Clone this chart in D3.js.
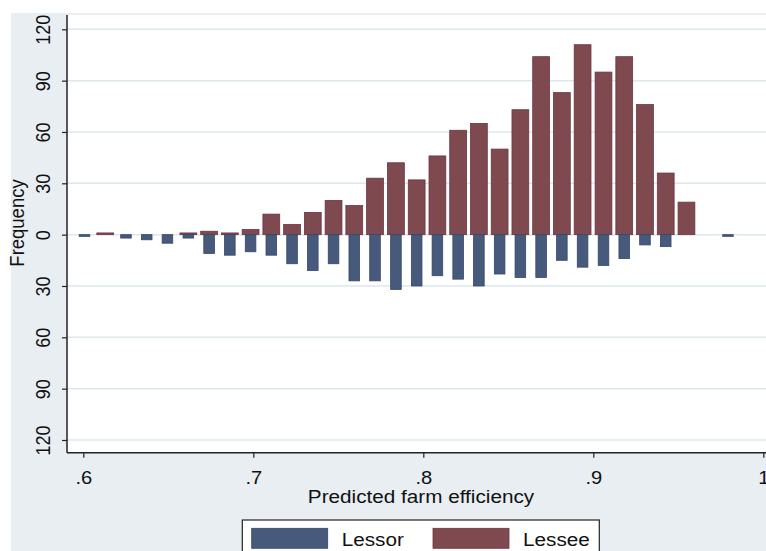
<!DOCTYPE html>
<html>
<head>
<meta charset="utf-8">
<script src="https://cdn.jsdelivr.net/npm/d3@7"></script>
<style>
    body { margin: 0; background: #fff; }
    svg { display: block; font-family: "Liberation Sans", Arial, sans-serif; }
</style>
</head>
<body>
<svg width="766" height="551"></svg>
<script>
// bin midpoints of predicted farm efficiency
const binCenters = [0.6007, 0.6129, 0.6251, 0.6373, 0.6495, 0.6618, 0.6740, 0.6862,
                    0.6984, 0.7106, 0.7228, 0.7350, 0.7472, 0.7594, 0.7716, 0.7839,
                    0.7961, 0.8083, 0.8205, 0.8327, 0.8449, 0.8571, 0.8693, 0.8815,
                    0.8937, 0.9060, 0.9182, 0.9304, 0.9426, 0.9548, 0.9670, 0.9792];
const lessee = [0, 1, 0, 0, 0, 1, 2, 1, 3, 12, 6, 13, 20, 17, 33, 42,
                32, 46, 61, 65, 50, 73, 104, 83, 111, 95, 104, 76, 36, 19, 0, 0];
const lessor = [1, 0, 2, 3, 5, 2, 11, 12, 10, 12, 17, 21, 17, 27, 27, 32,
                30, 24, 26, 30, 23, 25, 25, 15, 19, 18, 14, 6, 7, 0, 0, 1];
const xTicks = [0.6, 0.7, 0.8, 0.9, 1];
const yTicks = [-120, -90, -60, -30, 0, 30, 60, 90, 120];
const seriesNames = ["Lessor", "Lessee"];

const colors = { lessor: "#485a7b", lessee: "#7f4950" };
const strokes = { lessor: "#34476a", lessee: "#6b3540" };
const bg = "#e8eef1";
const gridColor = "#dee7ec";
const sx = 1.12; // the stata export is stretched a bit horizontally

const svg = d3.select("svg");

const plot = { left: 67, top: 15, right: 766, bottom: 452.7 };

const x = d3.scaleLinear().domain([0.6, 1]).range([83.3, 763.3]);
const y = d3.scaleLinear().domain([-120, 120]).range([440, 29.3]);

// graph region + plot region
svg.append("rect").attr("x", 11).attr("y", 13).attr("width", 766 - 11).attr("height", 551 - 13).attr("fill", bg);
svg.append("rect")
    .attr("x", plot.left).attr("y", plot.top)
    .attr("width", plot.right - plot.left).attr("height", plot.bottom - plot.top)
    .attr("fill", "#fff");

// grid
svg.append("g")
    .selectAll("line")
    .data(yTicks)
    .enter().append("line")
        .attr("x1", plot.left).attr("x2", plot.right)
        .attr("y1", d => y(d)).attr("y2", d => y(d))
        .attr("stroke", gridColor)
        .attr("stroke-width", 1.5);

// bars
const wLessee = 16.8, wLessor = 10.6;

svg.append("g")
    .selectAll("rect")
    .data(binCenters.map((c, i) => ({ c: c, v: lessee[i] })).filter(d => d.v > 0))
    .enter().append("rect")
        .attr("x", d => x(d.c) - wLessee / 2)
        .attr("width", wLessee)
        .attr("y", d => y(d.v))
        .attr("height", d => y(0) - y(d.v))
        .attr("fill", colors.lessee)
        .attr("stroke", strokes.lessee)
        .attr("stroke-width", 0.8);

svg.append("g")
    .selectAll("rect")
    .data(binCenters.map((c, i) => ({ c: c, v: lessor[i] })).filter(d => d.v > 0))
    .enter().append("rect")
        .attr("x", d => x(d.c) - wLessor / 2)
        .attr("width", wLessor)
        .attr("y", y(0))
        .attr("height", d => y(-d.v) - y(0))
        .attr("fill", colors.lessor)
        .attr("stroke", strokes.lessor)
        .attr("stroke-width", 0.8);

// axes
const yAxis = svg.append("g")
    .attr("transform", `translate(${plot.left},0)`)
    .call(d3.axisLeft(y).tickValues(yTicks).tickSize(5).tickFormat(d => Math.abs(d)));

yAxis.select(".domain").remove();
yAxis.selectAll("line").attr("stroke", "#222").attr("stroke-width", 1.2);
yAxis.selectAll("text")
    .attr("x", null).attr("dy", null)
    .attr("text-anchor", "middle")
    .attr("transform", d => `translate(${50 - plot.left},0) scale(${sx},1) rotate(-90)`)
    .attr("font-size", 18)
    .attr("fill", "#111")
    .attr("font-family", "Liberation Sans, Arial, sans-serif");

const xAxis = svg.append("g")
    .attr("transform", `translate(0,${plot.bottom})`)
    .call(d3.axisBottom(x).tickValues(xTicks).tickSize(5)
        .tickFormat(d => d === 1 ? "1" : d3.format(".1f")(d).replace(/^0/, "")));

xAxis.select(".domain").remove();
xAxis.selectAll("line").attr("stroke", "#222").attr("stroke-width", 1.2);
xAxis.selectAll("text")
    .attr("y", null).attr("dy", null)
    .attr("text-anchor", "middle")
    .attr("transform", `translate(0,${484 - plot.bottom}) scale(${sx},1)`)
    .attr("font-size", 18)
    .attr("fill", "#111")
    .attr("font-family", "Liberation Sans, Arial, sans-serif");

svg.append("line")
    .attr("x1", plot.left).attr("x2", plot.left)
    .attr("y1", plot.top).attr("y2", plot.bottom)
    .attr("stroke", "#222").attr("stroke-width", 1.5);
svg.append("line")
    .attr("x1", plot.left).attr("x2", plot.right)
    .attr("y1", plot.bottom).attr("y2", plot.bottom)
    .attr("stroke", "#222").attr("stroke-width", 1.5);

// titles
svg.append("text")
    .attr("transform", `translate(24,223) scale(${sx},1) rotate(-90)`)
    .attr("text-anchor", "middle")
    .attr("font-size", 18.5)
    .attr("fill", "#111")
    .text("Frequency");

svg.append("text")
    .attr("transform", `translate(421,503) scale(${sx},1)`)
    .attr("text-anchor", "middle")
    .attr("font-size", 18.5)
    .attr("fill", "#111")
    .text("Predicted farm efficiency");

// legend
const legend = svg.append("g");
legend.append("rect")
    .attr("x", 242.3).attr("y", 520)
    .attr("width", 357).attr("height", 50)
    .attr("fill", "#fff")
    .attr("stroke", "#222")
    .attr("stroke-width", 1.2);

const items = legend.selectAll("g.item")
    .data(seriesNames)
    .enter().append("g")
        .attr("class", "item")
        .attr("transform", (d, i) => `translate(${[251.7, 433][i]},0)`);

items.append("rect")
    .attr("x", 0).attr("y", 528.3)
    .attr("width", 76).attr("height", 20)
    .attr("fill", (d, i) => i === 0 ? colors.lessor : colors.lessee)
    .attr("stroke", (d, i) => i === 0 ? strokes.lessor : strokes.lessee)
    .attr("stroke-width", 0.8);

items.append("text")
    .attr("transform", `translate(90,546) scale(${sx},1)`)
    .attr("font-size", 18.5)
    .attr("fill", "#111")
    .text(d => d);
</script>
</body>
</html>
